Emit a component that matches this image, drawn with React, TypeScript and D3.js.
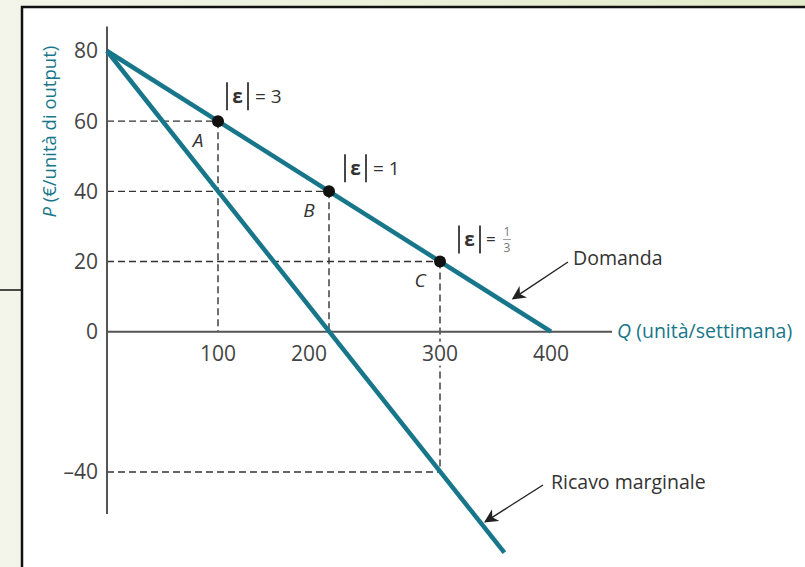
import { useEffect, useRef } from "react";
import * as d3 from "d3";

// demand and marginal revenue (linear), in Q / P units
const demandLine = [
  { q: 0, p: 80 },
  { q: 400, p: 0 }
];
const mrLine = [
  { q: 0, p: 80 },
  { q: 358, p: -63 }
];

const points = [
  { name: "A", q: 100, p: 60, eps: "3" },
  { name: "B", q: 200, p: 40, eps: "1" },
  { name: "C", q: 300, p: 20, eps: "1/3" }
];

const xTicks = [100, 200, 300, 400];
const yTicks = [80, 60, 40, 20, 0, -40];
const yTickLabels = ["80", "60", "40", "20", "0", "\u201340"];

// axis extents in data units
const xAxisEnd = 455;
const yAxisTop = 87;
const yAxisBottom = -52;

const TEAL = "#17768a";
const FONT = "'Open Sans', 'Noto Sans', sans-serif";

export default function App() {
  const ref = useRef<SVGSVGElement>(null);

  useEffect(() => {
    const svg = d3.select(ref.current);
    svg.selectAll("*").remove();

    const width = 805;
    const height = 567;
    svg.attr("width", width).attr("height", height);

    // background + frame
    const defs = svg.append("defs");
    const grad = defs.append("linearGradient").attr("id", "bg").attr("x1", 0).attr("y1", 0).attr("x2", 1).attr("y2", 0);
    grad.append("stop").attr("offset", "0%").attr("stop-color", "#f3f5ea");
    grad.append("stop").attr("offset", "100%").attr("stop-color", "#e2ebc9");
    svg.append("rect").attr("width", width).attr("height", height).attr("fill", "url(#bg)");
    svg.append("line")
      .attr("x1", 0).attr("x2", 22).attr("y1", 290).attr("y2", 290)
      .attr("stroke", "#111").attr("stroke-width", 1.5);
    svg.append("rect")
      .attr("x", 22).attr("y", 7)
      .attr("width", width).attr("height", height)
      .attr("fill", "#fff")
      .attr("stroke", "#111").attr("stroke-width", 2.5);

    const x = d3.scaleLinear().domain([0, 400]).range([107, 551]);
    const y = d3.scaleLinear().domain([-40, 80]).range([472, 51]);

    const g = svg.append("g");

    // dashed guides
    const dash = "7,4";
    const guides: [number, number, number, number][] = [];
    points.forEach(d => {
      guides.push([0, d.p, d.q, d.p]);
    });
    guides.push([100, 60, 100, 0]);
    guides.push([200, 40, 200, 0]);
    guides.push([300, 20, 300, -40]);
    guides.push([0, -40, 300, -40]);
    guides.forEach(([q1, p1, q2, p2]) => {
      g.append("line")
        .attr("x1", x(q1)).attr("y1", y(p1))
        .attr("x2", x(q2)).attr("y2", y(p2))
        .attr("stroke", "#333")
        .attr("stroke-width", 1.4)
        .attr("stroke-dasharray", dash);
    });

    // axes
    g.append("line")
      .attr("x1", x(0)).attr("x2", x(0))
      .attr("y1", y(yAxisTop)).attr("y2", y(yAxisBottom))
      .attr("stroke", "#555").attr("stroke-width", 2);
    g.append("line")
      .attr("x1", x(0)).attr("x2", x(xAxisEnd))
      .attr("y1", y(0)).attr("y2", y(0))
      .attr("stroke", "#555").attr("stroke-width", 2);

    g.selectAll(".ytick")
      .data(yTicks)
      .join("text")
      .attr("x", x(0) - 9)
      .attr("y", d => y(d))
      .attr("dy", "0.35em")
      .attr("text-anchor", "end")
      .attr("font-family", FONT)
      .attr("font-size", 21)
      .attr("fill", "#444")
      .text((d, i) => yTickLabels[i]);

    const xtick = g.selectAll(".xtick")
      .data(xTicks)
      .join("g")
      .attr("transform", d => `translate(${x(d) + (d === 200 ? -20 : 0)},${y(0) + 22})`);
    xtick.append("rect")
      .attr("x", -22).attr("y", -12)
      .attr("width", 44).attr("height", 24)
      .attr("fill", "#fff");
    xtick.append("text")
      .attr("dy", "0.35em")
      .attr("text-anchor", "middle")
      .attr("font-family", FONT)
      .attr("font-size", 21)
      .attr("fill", "#444")
      .text(d => d);

    // axis titles
    const yt = g.append("text")
      .attr("transform", `translate(${56},${y(57)}) rotate(-90)`)
      .attr("text-anchor", "middle")
      .attr("font-family", FONT)
      .attr("font-size", 18.5)
      .attr("fill", TEAL);
    yt.append("tspan").attr("font-style", "italic").text("P");
    yt.append("tspan").text(" (\u20ac/unit\u00e0 di output)");

    const xt = g.append("text")
      .attr("x", x(xAxisEnd) + 5)
      .attr("y", y(0))
      .attr("dy", "0.35em")
      .attr("font-family", FONT)
      .attr("font-size", 19.5)
      .attr("fill", TEAL);
    xt.append("tspan").attr("font-style", "italic").text("Q");
    xt.append("tspan").text(" (unit\u00e0/settimana)");

    // curves
    const line = d3.line<{ q: number; p: number }>().x(d => x(d.q)).y(d => y(d.p));
    [demandLine, mrLine].forEach(data => {
      g.append("path")
        .attr("d", line(data))
        .attr("fill", "none")
        .attr("stroke", TEAL)
        .attr("stroke-width", 4.5);
    });

    // points + labels
    points.forEach((d, i) => {
      const px = x(d.q);
      const py = y(d.p);
      g.append("circle").attr("cx", px).attr("cy", py).attr("r", 6).attr("fill", "#111");
      g.append("text")
        .attr("x", px - 20).attr("y", py + 19)
        .attr("dy", "0.35em")
        .attr("text-anchor", "middle")
        .attr("font-family", FONT)
        .attr("font-style", "italic")
        .attr("font-size", 19)
        .attr("fill", "#333")
        .text(d.name);

      // |ε| = value
      const lx = px + [9, 16, 19][i];
      const ly = py - [25, 23, 22][i];
      const lab = g.append("g").attr("transform", `translate(${lx},${ly})`);
      lab.append("line").attr("x1", 0).attr("x2", 0).attr("y1", -14).attr("y2", 14)
        .attr("stroke", "#333").attr("stroke-width", 1.8);
      lab.append("text")
        .attr("x", 10.5).attr("y", 0).attr("dy", "0.35em")
        .attr("text-anchor", "middle")
        .attr("font-family", FONT)
        .attr("font-weight", "bold")
        .attr("font-size", 19)
        .attr("fill", "#333")
        .text("\u03b5");
      lab.append("line").attr("x1", 21).attr("x2", 21).attr("y1", -14).attr("y2", 14)
        .attr("stroke", "#333").attr("stroke-width", 1.8);
      if (d.eps === "1/3") {
        lab.append("text")
          .attr("x", 27).attr("y", 0).attr("dy", "0.35em")
          .attr("font-family", FONT).attr("font-size", 17).attr("fill", "#333")
          .text("=");
        const [num, den] = d.eps.split("/");
        lab.append("text")
          .attr("x", 48).attr("y", -4)
          .attr("text-anchor", "middle")
          .attr("font-family", FONT).attr("font-size", 12).attr("fill", "#777")
          .text(num);
        lab.append("line").attr("x1", 44).attr("x2", 52).attr("y1", 0).attr("y2", 0)
          .attr("stroke", "#888").attr("stroke-width", 0.8);
        lab.append("text")
          .attr("x", 48).attr("y", 12)
          .attr("text-anchor", "middle")
          .attr("font-family", FONT).attr("font-size", 12).attr("fill", "#777")
          .text(den);
      } else {
        lab.append("text")
          .attr("x", 28).attr("y", 0).attr("dy", "0.35em")
          .attr("font-family", FONT).attr("font-size", 19).attr("fill", "#333")
          .text("= " + d.eps);
      }
    });

    // annotations
    defs.append("marker")
      .attr("id", "arrow")
      .attr("viewBox", "0 0 10 10")
      .attr("refX", 9).attr("refY", 5)
      .attr("markerWidth", 14).attr("markerHeight", 14)
      .attr("markerUnits", "userSpaceOnUse")
      .attr("orient", "auto")
      .append("path")
      .attr("d", "M0,0 L10,5 L0,10 L3,5 Z")
      .attr("fill", "#222");

    const notes = [
      { text: "Domanda", q: 363, p: 80 - 0.2 * 363 + 2, tx: 568, ty: 262, lx: 573, ly: 258 },
      { text: "Ricavo marginale", q: 338, p: 80 - 0.4 * 338 + 1, tx: 543, ty: 485, lx: 551, ly: 482 }
    ];
    notes.forEach(n => {
      g.append("line")
        .attr("x1", n.tx).attr("y1", n.ty)
        .attr("x2", x(n.q) + 3).attr("y2", y(n.p))
        .attr("stroke", "#222").attr("stroke-width", 1.4)
        .attr("marker-end", "url(#arrow)");
      g.append("text")
        .attr("x", n.lx).attr("y", n.ly)
        .attr("dy", "0.35em")
        .attr("font-family", FONT)
        .attr("font-size", 19.5)
        .attr("fill", "#333")
        .text(n.text);
    });
  }, []);

  return <svg ref={ref} style={{ display: "block", position: "absolute", left: 0, top: 0 }}></svg>;
}
